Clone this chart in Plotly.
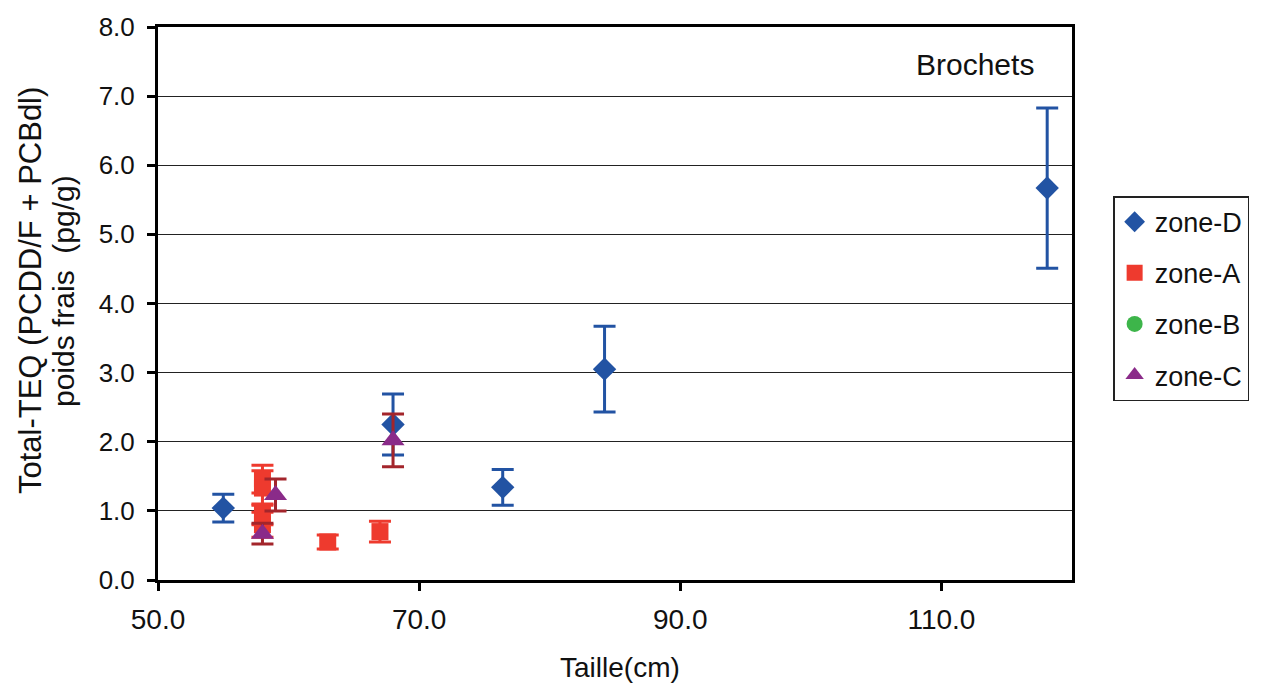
import plotly.graph_objects as go

# Zone D (blue diamonds)
d_x = [55.0, 68.0, 76.4, 84.2, 118.1]
d_y = [1.04, 2.25, 1.34, 3.05, 5.67]
d_err = [0.20, 0.44, 0.26, 0.62, 1.16]

# Zone A (red squares)
a_x = [58.0, 58.0, 58.0, 58.0, 63.0, 67.0]
a_y = [1.46, 1.33, 0.95, 0.80, 0.55, 0.70]
a_err = [0.20, 0.25, 0.15, 0.18, 0.10, 0.15]

# Zone B (green circles) - no data shown
b_x = [None]
b_y = [None]

# Zone C (purple triangles)
c_x = [58.0, 59.0, 68.0]
c_y = [0.67, 1.23, 2.02]
c_err = [0.15, 0.23, 0.38]

x_ticks = [50, 70, 90, 110]
y_ticks = [0, 1, 2, 3, 4, 5, 6, 7, 8]

y_title_1 = "Total-TEQ (PCDD/F + PCBdl)"
y_title_2 = "poids frais  (pg/g)"
x_title = "Taille(cm)"
panel_label = "Brochets"

BLUE = "#2253A3"
RED = "#EE3A2E"
GREEN = "#3DB54A"
PURPLE = "#8A2B89"
DARKRED = "#A3252B"

fig = go.Figure()
fig.add_trace(go.Scatter(
    x=d_x, y=d_y, mode="markers", name="zone-D", legendgroup="d",
    marker=dict(symbol="diamond", size=18, color=BLUE),
    error_y=dict(type="data", array=d_err, visible=True, color=BLUE, thickness=3, width=11),
))
fig.add_trace(go.Scatter(
    x=a_x, y=a_y, mode="markers", name="zone-A", legendgroup="a",
    marker=dict(symbol="square", size=17, color=RED),
    error_y=dict(type="data", array=a_err, visible=True, color=RED, thickness=3, width=11),
))
fig.add_trace(go.Scatter(
    x=b_x, y=b_y, mode="markers", name="zone-B", legendgroup="b",
    marker=dict(symbol="circle", size=17, color=GREEN),
))
fig.add_trace(go.Scatter(
    x=c_x, y=c_y, mode="markers", name="zone-C", legendgroup="c",
    marker=dict(symbol="triangle-up", size=20, color=PURPLE),
    error_y=dict(type="data", array=c_err, visible=True, color=DARKRED, thickness=3, width=11),
))

font_family = "Liberation Sans, Arial, sans-serif"

fig.update_layout(
    width=1268, height=689,
    margin=dict(l=158, r=196, t=25, b=109),
    paper_bgcolor="white", plot_bgcolor="white",
    font=dict(family=font_family, size=20, color="#111"),
    showlegend=True,
    legend=dict(
        x=1.045, xanchor="left", y=0.694, yanchor="top",
        bordercolor="#222", borderwidth=1.5, bgcolor="white",
        font=dict(size=27, color="#111"), tracegroupgap=13,
        itemwidth=30,
    ),
    xaxis=dict(
        range=[50, 120], tickvals=x_ticks, tickformat=".1f",
        showgrid=False, zeroline=False,
        showline=True, linecolor="black", linewidth=3, mirror=True,
        ticks="outside", ticklen=8, tickwidth=3, tickcolor="black",
        tickfont=dict(size=28, color="#111"), ticklabelstandoff=4,
    ),
    yaxis=dict(
        range=[0, 8], tickvals=y_ticks, tickformat=".1f",
        showgrid=True, gridcolor="#222", gridwidth=1.2, zeroline=False,
        showline=True, linecolor="black", linewidth=3, mirror=True,
        ticks="outside", ticklen=8, tickwidth=3, tickcolor="black",
        tickfont=dict(size=26, color="#111"), ticklabelstandoff=7,
    ),
    annotations=[
        dict(text=panel_label, x=0.894, y=0.933, xref="paper", yref="paper",
             xanchor="center", yanchor="middle",
             showarrow=False, font=dict(size=30, color="#111")),
        dict(text=x_title, x=(620 - 158) / 914, y=(580 - 668) / 555,
             xref="paper", yref="paper", xanchor="center", yanchor="middle",
             showarrow=False, font=dict(size=28, color="#111")),
        dict(text=y_title_1, x=(30 - 158) / 914, y=(580 - 290) / 555,
             xref="paper", yref="paper", xanchor="center", yanchor="middle",
             textangle=-90, showarrow=False, font=dict(size=31, color="#111")),
        dict(text=y_title_2, x=(63 - 158) / 914, y=(580 - 290) / 555,
             xref="paper", yref="paper", xanchor="center", yanchor="middle",
             textangle=-90, showarrow=False, font=dict(size=30, color="#111")),
    ],
)

fig.write_html("out.html")
